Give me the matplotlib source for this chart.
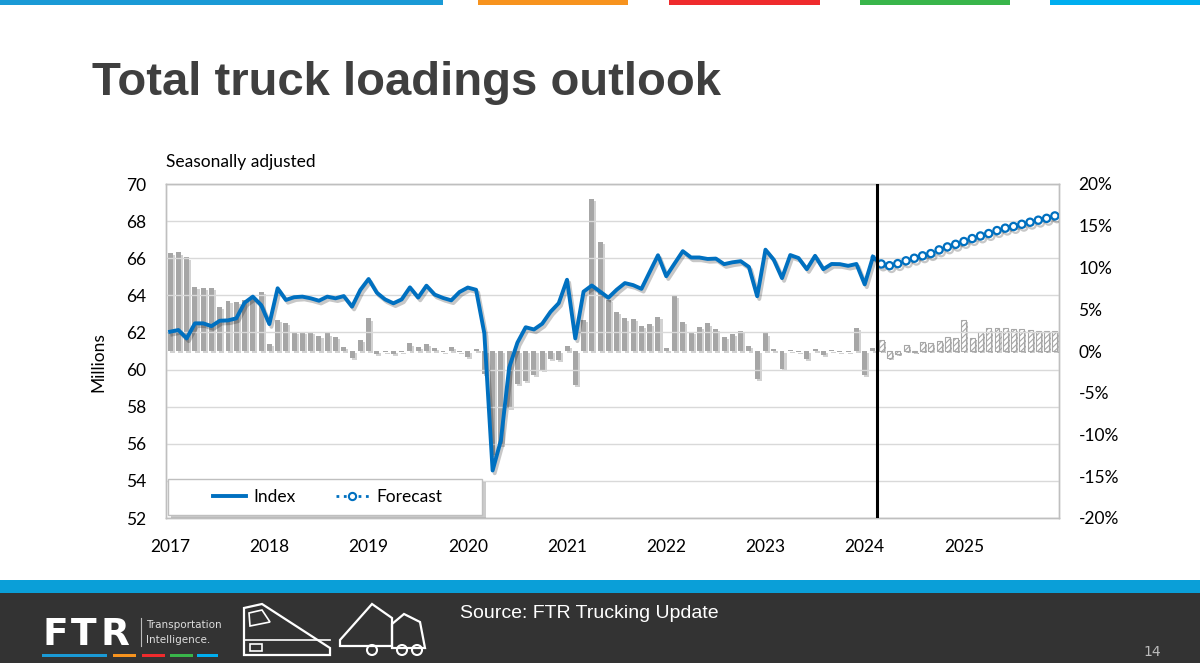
import numpy as np
import matplotlib
matplotlib.use('Agg')
import matplotlib.pyplot as plt
import matplotlib.patheffects as pe
from matplotlib.patches import Rectangle, Polygon, Circle
from matplotlib.lines import Line2D
from matplotlib.ticker import FuncFormatter

# ---- data ----
years = ['2017', '2018', '2019', '2020', '2021', '2022', '2023', '2024', '2025']

# seasonally adjusted total truck loadings, millions, Jan 2017 - Feb 2024
index_vals = [
    62.04, 62.13, 61.68, 62.49, 62.49, 62.34, 62.63, 62.65, 62.76, 63.60, 63.93, 63.48,
    62.45, 64.38, 63.75, 63.90, 63.93, 63.84, 63.71, 63.93, 63.84, 63.96, 63.39, 64.29,
    64.88, 64.14, 63.78, 63.57, 63.78, 64.43, 63.88, 64.52, 64.04, 63.86, 63.73, 64.18,
    64.42, 64.30, 61.95, 54.56, 56.18, 60.10, 61.45, 62.28, 62.16, 62.47, 63.11, 63.58,
    64.84, 61.68, 64.20, 64.53, 64.20, 63.87, 64.30, 64.66, 64.55, 64.35, 65.26, 66.16,
    65.03, 65.71, 66.38, 66.04, 66.04, 65.96, 65.98, 65.68, 65.78, 65.84, 65.53, 63.95,
    66.46, 65.92, 64.93, 66.17, 66.01, 65.41, 66.13, 65.41, 65.69, 65.68, 65.59, 65.69,
    64.59, 66.07,
]
# forecast, Mar 2024 - Dec 2025
forecast_vals = [
    65.69, 65.60, 65.71, 65.86, 66.00, 66.13, 66.25, 66.45, 66.61, 66.75,
    66.90, 67.06, 67.20, 67.33, 67.49, 67.62, 67.71, 67.83, 67.94, 68.05,
    68.15, 68.28,
]
# year-over-year change, % (right axis)
yoy_hist = [
    11.7, 11.8, 11.2, 7.7, 7.6, 7.5, 5.3, 6.0, 5.9, 6.1, 6.6, 7.1,
    0.8, 3.7, 3.4, 2.3, 2.3, 2.3, 1.8, 2.1, 1.7, 0.5, -0.8, 1.3,
    3.9, -0.3, -0.1, -0.4, -0.1, 0.9, 0.5, 0.8, 0.4, -0.1, 0.5, -0.1,
    -0.7, 0.2, -2.8, -12.5, -11.2, -6.8, -3.9, -3.6, -2.9, -2.3, -0.9, -1.1,
    0.6, -4.1, 3.7, 18.2, 13.1, 6.1, 4.7, 3.9, 3.8, 3.0, 3.2, 4.1,
    0.3, 6.6, 3.5, 2.3, 2.9, 3.3, 2.6, 1.7, 2.0, 2.4, 0.6, -3.4,
    2.1, 0.2, -2.2, 0.1, -0.1, -0.9, 0.2, -0.5, 0.1, -0.1, -0.1, 2.8,
    -2.9, 0.3,
]
yoy_fcst = [
    1.3, -0.8, -0.35, 0.7, -0.15, 1.1, 1.0, 1.2, 1.7, 1.6,
    3.7, 1.6, 2.3, 2.7, 2.7, 2.7, 2.6, 2.6, 2.5, 2.4,
    2.4, 2.4,
]

blue = '#0070C0'
bar_grey = '#A6A6A6'
plt.rcParams['hatch.color'] = bar_grey
plt.rcParams['hatch.linewidth'] = 0.8
chart_font = ['Lato', 'DejaVu Sans']

x_hist = np.arange(len(index_vals))
x_fcst = np.arange(len(index_vals), len(index_vals) + len(forecast_vals))
n_months = len(x_hist) + len(x_fcst)

fig = plt.figure(figsize=(12, 6.63), dpi=100)

# slide background elements in pixel coordinates
bg = fig.add_axes([0, 0, 1, 1], zorder=-5)
bg.set_xlim(0, 1200)
bg.set_ylim(663, 0)
bg.axis('off')

for x0, x1, c in [(0, 443, '#1A9AD6'), (478, 628, '#F7931E'), (669, 820, '#EF2B2D'),
                  (860, 1010, '#39B54A'), (1050, 1200, '#00AEEF')]:
    bg.add_patch(Rectangle((x0, 0), x1 - x0, 5, color=c, lw=0))

bg.text(92, 95, 'Total truck loadings outlook', fontsize=34, fontweight='bold',
        color='#3F3F3F', family='Liberation Sans', va='baseline', ha='left')

bg.add_patch(Rectangle((0, 580), 1200, 13, color='#0A9FD8', lw=0))
bg.add_patch(Rectangle((0, 593), 1200, 70, color='#333333', lw=0))
bg.text(460, 614, 'Source: FTR Trucking Update', fontsize=14, color='white',
        family='Liberation Sans', va='center', ha='left')
bg.text(1152, 652, '14', fontsize=10, color='#BBBBBB', va='center', ha='center')

# logo
for letter, lx in [('F', 43), ('T', 71), ('R', 101)]:
    bg.text(lx, 645, letter, fontsize=27, fontweight='bold', color='white',
            family='DejaVu Sans', va='baseline', ha='left')
bg.plot([141, 141], [618, 646], color='#BBBBBB', lw=0.8)
bg.text(146, 625, 'Transportation', fontsize=7.5, color='#DDDDDD', va='center', ha='left')
bg.text(146, 640, 'Intelligence.', fontsize=7.5, color='#DDDDDD', va='center', ha='left')
for x0, x1, c in [(42, 107, '#1A9AD6'), (113, 136, '#F7931E'), (142, 165, '#EF2B2D'),
                  (170, 193, '#39B54A'), (197, 218, '#00AEEF')]:
    bg.add_patch(Rectangle((x0, 654), x1 - x0, 2.5, color=c, lw=0))

# train icon
bg.add_patch(Polygon([(244, 608), (262, 604), (330, 648), (330, 655), (244, 655)],
                     closed=True, fill=False, ec='white', lw=1.6))
bg.add_patch(Polygon([(249, 613), (262, 610), (270, 622), (250, 626)],
                     closed=True, fill=False, ec='white', lw=1.2))
bg.plot([244, 330], [640, 640], color='white', lw=1.2)
bg.add_patch(Rectangle((250, 644), 12, 7, fill=False, ec='white', lw=1.2))

# truck icon
bg.add_patch(Polygon([(340, 640), (372, 604), (392, 618), (392, 646), (340, 646)],
                     closed=True, fill=False, ec='white', lw=1.6))
bg.add_patch(Polygon([(392, 624), (404, 614), (420, 622), (425, 648), (392, 648)],
                     closed=True, fill=False, ec='white', lw=1.6))
for cx in [372, 402, 417]:
    bg.add_patch(Circle((cx, 650), 5, fill=False, ec='white', lw=1.5))

# ---- chart ----
ax = fig.add_axes([166 / 1200, 1 - 518 / 663, 893 / 1200, 334 / 663])
ax2 = ax.twinx()
ax.set_zorder(ax2.get_zorder() + 1)
ax.patch.set_visible(False)

bar_shadow = [pe.withSimplePatchShadow(offset=(1.5, -1.5), shadow_rgbFace='#7F7F7F', alpha=0.35)]
bars = ax2.bar(x_hist, yoy_hist, width=0.6, color=bar_grey, lw=0)
for b in bars:
    b.set_path_effects(bar_shadow)
fbars = ax2.bar(x_fcst, yoy_fcst, width=0.6, facecolor='white', edgecolor=bar_grey,
                hatch='//////', lw=0.8)
for b in fbars:
    b.set_path_effects(bar_shadow)

line_shadow = [pe.SimpleLineShadow(offset=(1.5, -2), shadow_color='k', alpha=0.22), pe.Normal()]
ax.plot(x_hist, index_vals, color=blue, lw=2.8, path_effects=line_shadow, zorder=4)
ax.plot([x_hist[-1], x_fcst[0]], [index_vals[-1], forecast_vals[0]], color=blue, lw=2.8,
        path_effects=line_shadow, zorder=4)
ax.plot(x_fcst, forecast_vals, color=blue, lw=2, ls=':', marker='o', ms=5.2,
        mfc='white', mec=blue, mew=1.6, zorder=5,
        path_effects=[pe.SimpleLineShadow(offset=(1.5, -2), shadow_color='k', alpha=0.22), pe.Normal()])

ax.axvline(x_hist[-1] + 0.5, color='black', lw=2.2, zorder=6)

ax.set_xlim(-0.5, n_months - 0.5)
ax.set_ylim(52, 70)
ax.set_yticks(np.arange(52, 71, 2))
ax2.set_ylim(-20, 20)
ax2.set_yticks(np.arange(-20, 21, 5))
ax2.yaxis.set_major_formatter(FuncFormatter(lambda v, p: f'{v:.0f}%'))
ax.set_xticks(np.arange(0, n_months, 12))
ax.set_xticklabels(years)

ax.yaxis.grid(True, color='#D9D9D9', lw=1)
ax.set_axisbelow(True)
for a in (ax, ax2):
    for s in a.spines.values():
        s.set_color('#BFBFBF')
        s.set_linewidth(1)
ax.tick_params(axis='y', length=0, pad=14, labelsize=12.5)
ax.tick_params(axis='x', length=0, pad=15, labelsize=12.5)
ax2.tick_params(axis='y', length=0, pad=14, labelsize=12.5)
for lab in ax.get_xticklabels() + ax.get_yticklabels() + ax2.get_yticklabels():
    lab.set_family(chart_font)

bg.text(166, 162, 'Seasonally adjusted', fontsize=12.5, family=chart_font,
        va='center', ha='left')
bg.text(98, 362, 'Millions', fontsize=12.5, family=chart_font, rotation=90,
        va='center', ha='center')

# legend: frame drawn separately so the entries can sit inset like the original
leg_box = Rectangle((0.002, 0.009), 0.352, 0.108, transform=ax.transAxes,
                    fc='white', ec='#BFBFBF', lw=1, zorder=7,
                    path_effects=[pe.withSimplePatchShadow(offset=(2.5, -2.5),
                                                           shadow_rgbFace='#7F7F7F', alpha=0.4)])
ax.add_patch(leg_box)
handles = [Line2D([], [], color=blue, lw=2.8),
           Line2D([], [], color=blue, lw=2, ls=':', marker='o', ms=5.2, mfc='white', mew=1.5)]
leg = ax.legend(handles, ['Index', 'Forecast'], loc='center',
                bbox_to_anchor=(0.181, 0.063), ncol=2, frameon=False,
                prop={'family': chart_font, 'size': 12.5}, handlelength=1.9,
                handletextpad=0.45, columnspacing=2.3, borderpad=0, borderaxespad=0)
leg.set_zorder(8)

fig.savefig('out.png', dpi=100)
